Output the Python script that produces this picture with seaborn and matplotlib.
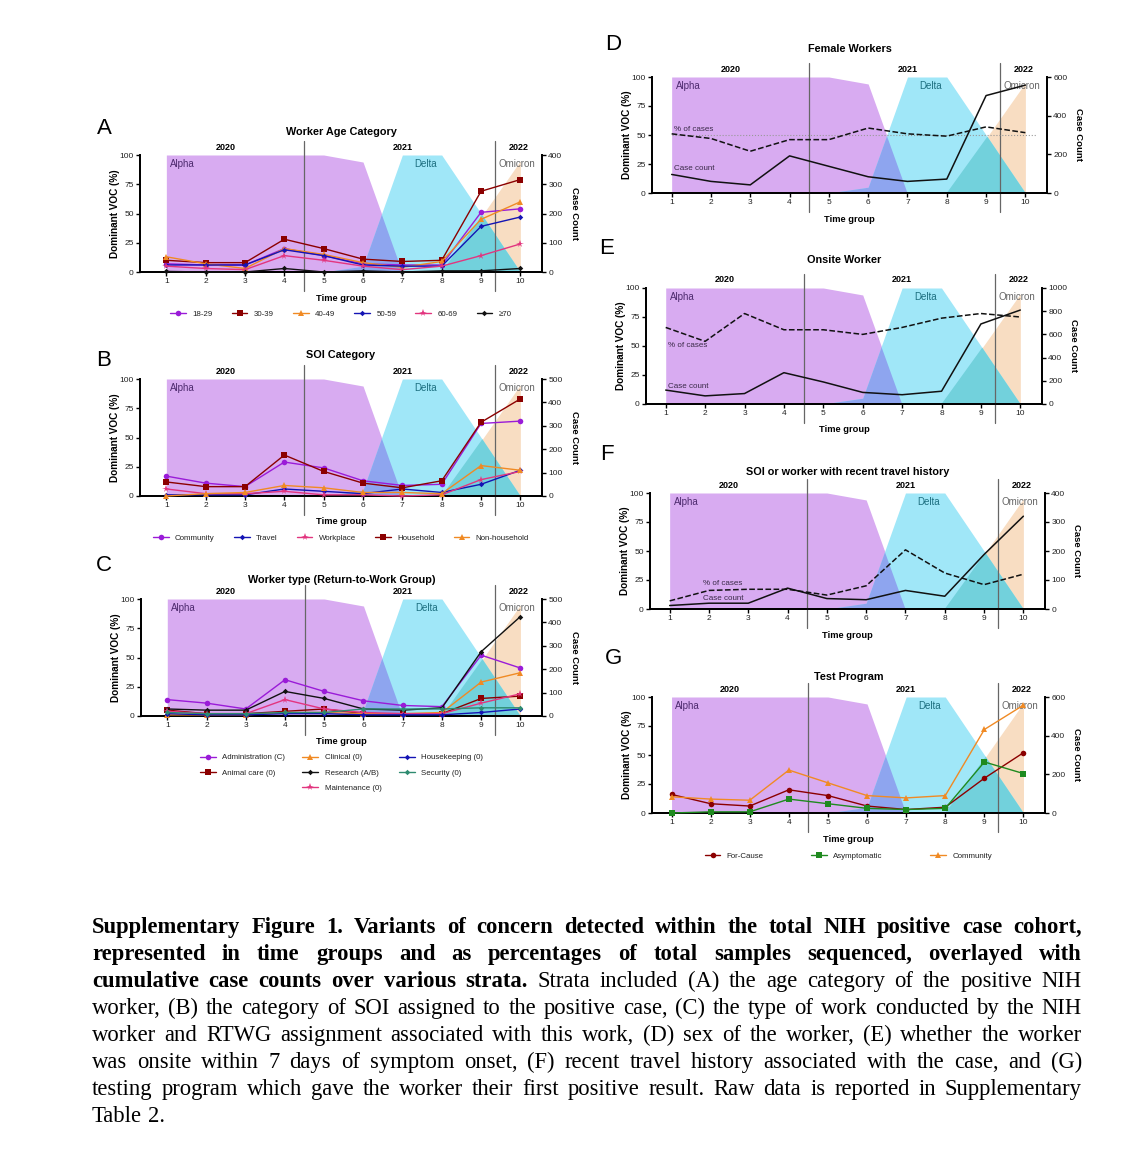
import numpy as np
import matplotlib
matplotlib.use('Agg')
import matplotlib.pyplot as plt
from matplotlib.lines import Line2D
import seaborn as sns

sns.set_theme(style='white')
plt.rcParams['font.family'] = ['Liberation Sans', 'DejaVu Sans']
plt.rcParams['text.color'] = 'black'

W, H = 1129, 1150
time_group = np.arange(1, 11)

# dominant variant of concern, % of sequenced samples
voc_alpha = [100, 100, 100, 100, 100, 94, 0, 0, 0, 0]
voc_delta = [0, 0, 0, 0, 0, 5, 100, 100, 50, 0]
voc_omicron = [0, 0, 0, 0, 0, 0, 0, 0, 47, 95]

# A - worker age category (case counts)
age_labels = ['18-29', '30-39', '40-49', '50-59', '60-69', '\u226570']
age_18_29 = [28, 24, 24, 80, 56, 28, 24, 24, 204, 216]
age_30_39 = [40, 32, 32, 112, 80, 44, 36, 40, 276, 316]
age_40_49 = [52, 28, 12, 80, 60, 32, 16, 36, 180, 240]
age_50_59 = [24, 24, 24, 76, 56, 24, 20, 20, 156, 188]
age_60_69 = [20, 12, 8, 56, 40, 20, 8, 20, 56, 96]
age_70_up = [2, 0, 0, 12, 0, 4, 0, 4, 4, 12]

# B - SOI category
soi_labels = ['Community', 'Travel', 'Workplace', 'Household', 'Non-household']
soi_community = [85, 55, 40, 145, 120, 65, 45, 50, 310, 320]
soi_travel = [5, 5, 5, 30, 20, 10, 30, 15, 50, 110]
soi_workplace = [30, 10, 10, 20, 5, 5, 0, 5, 70, 105]
soi_household = [60, 40, 40, 175, 105, 55, 35, 65, 315, 415]
soi_nonhousehold = [0, 10, 15, 45, 35, 15, 15, 10, 130, 110]

# C - worker type
wt_labels = ['Administration (C)', 'Animal care (0)', 'Clinical (0)', 'Research (A/B)',
             'Maintenance (0)', 'Housekeeping (0)', 'Security (0)']
wt_admin = [70, 55, 30, 155, 105, 65, 45, 40, 260, 205]
wt_animal = [25, 10, 10, 20, 30, 10, 10, 10, 75, 85]
wt_clinical = [5, 5, 5, 15, 15, 10, 10, 15, 145, 185]
wt_research = [30, 25, 25, 105, 75, 30, 25, 35, 275, 425]
wt_maint = [20, 10, 10, 70, 30, 15, 10, 10, 55, 95]
wt_house = [10, 5, 5, 10, 10, 5, 5, 5, 15, 30]
wt_security = [15, 10, 10, 15, 15, 30, 30, 30, 35, 35]

# D - female workers
fem_pct = [51, 47, 36, 46, 46, 56, 51, 49, 57, 52]
fem_count = [96, 60, 42, 192, 138, 84, 60, 72, 504, 558]

# E - onsite worker
ons_pct = [66, 54, 78, 64, 64, 60, 66, 74, 78, 75]
ons_count = [120, 70, 90, 270, 190, 100, 80, 110, 690, 810]

# F - recent travel history
trv_pct = [7, 16, 17, 17, 12, 20, 51, 31, 21, 30]
trv_count = [12, 20, 20, 72, 36, 32, 64, 44, 188, 320]

# G - test program
tp_labels = ['For-Cause', 'Asymptomatic', 'Community']
tp_forcause = [96, 48, 36, 120, 90, 36, 18, 30, 180, 312]
tp_asymp = [0, 6, 6, 72, 48, 24, 18, 24, 264, 204]
tp_community = [84, 72, 66, 222, 156, 90, 78, 90, 432, 558]

C_ALPHA, C_DELTA, C_OMI = '#d8abf1', '#a0e7f8', '#f8ddc2'
C_AD, C_DO = '#8ea5ef', '#72d1dc'
PURPLE, DRED, ORANGE, BLUE = '#9a1bd8', '#8b0000', '#f08a24', '#1414b4'
PINK, BLACK, TEAL, GREEN = '#e2357f', '#111111', '#2e8b70', '#1f8a1f'

fig = plt.figure(figsize=(W / 100, H / 100), dpi=100)


def make_axes(l, r, t, b):
    return fig.add_axes([l / W, 1 - b / H, (r - l) / W, (b - t) / H])


def setup(ax, title, title_off, cmax, cticks, xleft, hpx):
    a = ax.fill_between(time_group, 0, voc_alpha, color=C_ALPHA, lw=0)
    o = ax.fill_between(time_group, 0, voc_omicron, color=C_OMI, lw=0)
    ax.fill_between(time_group, 0, voc_delta, color=C_DELTA, lw=0)
    ov = ax.fill_between(time_group, 0, voc_delta, color=C_AD, lw=0)
    ov.set_clip_path(a.get_paths()[0], ax.transData)
    ov2 = ax.fill_between(time_group, 0, voc_delta, color=C_DO, lw=0)
    ov2.set_clip_path(o.get_paths()[0], ax.transData)
    ax.set_xlim(xleft, 10.55)
    ax.set_ylim(0, 100)
    ax.set_yticks([0, 25, 50, 75, 100])
    ax.set_xticks(time_group)
    for xv in (4.5, 9.35):
        ax.axvline(xv, ymin=-0.16, ymax=1.12, color='#666666', lw=0.9, clip_on=False, zorder=3)
    tr = ax.get_xaxis_transform()
    yy = 1 + 8 / hpx
    for xv, yr in ((2.5, '2020'), (7.0, '2021'), (9.95, '2022')):
        ax.text(xv, yy, yr, transform=tr, ha='center', va='center', fontsize=6.5, weight='bold')
    ax.text(1.1, 92, 'Alpha', ha='left', va='center', fontsize=7, color='#4d2a6e')
    ax.text(7.6, 92, 'Delta', ha='center', va='center', fontsize=7, color='#1d6f80')
    ax.text(9.9, 92, 'Omicron', ha='center', va='center', fontsize=7, color='#666666')
    ax.text(0.5, 1 + title_off / hpx, title, transform=ax.transAxes, ha='center', va='center',
            fontsize=7.8, weight='bold')
    ax.text(0.5, -26 / hpx, 'Time group', transform=ax.transAxes, ha='center', va='center',
            fontsize=6.7, weight='bold')
    ax.text(-25 / 400, 0.5, 'Dominant VOC (%)', transform=ax.transAxes, rotation=90,
            ha='center', va='center', fontsize=7.2, weight='bold')
    ax2 = ax.twinx()
    ax2.set_ylim(0, cmax)
    ax2.set_yticks(cticks)
    ax2.text(1 + 32 / 400, 0.5, 'Case Count', transform=ax.transAxes, rotation=270,
             ha='center', va='center', fontsize=6.8, weight='bold')
    for a_ in (ax, ax2):
        a_.spines['top'].set_visible(False)
        for s in ('left', 'right', 'bottom'):
            a_.spines[s].set_linewidth(1.3)
            a_.spines[s].set_color('black')
        a_.tick_params(labelsize=6, length=3, width=1, pad=1.5, direction='out',
                       color='black', labelcolor='#222222')
    ax.tick_params(axis='y', left=True, right=False)
    ax.tick_params(axis='x', bottom=True)
    ax2.tick_params(axis='y', right=True)
    ax.grid(False)
    ax2.grid(False)
    return ax2


def series(ax2, vals, color, marker, label, ms=4):
    sns.lineplot(x=time_group, y=vals, ax=ax2, color=color, marker=marker, markersize=ms,
                 linewidth=1.0, markeredgewidth=0, label=label, clip_on=False, zorder=4)


def finish_legend(ax2, handles, labels, ncol, yoff, hpx, colsp=2.0):
    leg = ax2.legend(handles, labels, loc='center', bbox_to_anchor=(0.5, -yoff / hpx),
                     ncol=ncol, frameon=False, fontsize=5.7, handlelength=2.0,
                     columnspacing=colsp, handletextpad=0.8, labelspacing=1.0,
                     borderaxespad=0)
    for t in leg.get_texts():
        t.set_color('#222222')
    return leg


def panel_letter(x, y, s):
    fig.text(x / W, 1 - y / H, s, fontsize=16, ha='center', va='center')


# ---- A
axA = make_axes(140, 542, 155, 272)
a2 = setup(axA, 'Worker Age Category', 23, 400, [0, 100, 200, 300, 400], 0.33, 117)
series(a2, age_18_29, PURPLE, 'o', age_labels[0])
series(a2, age_30_39, DRED, 's', age_labels[1])
series(a2, age_40_49, ORANGE, '^', age_labels[2], 4.5)
series(a2, age_50_59, BLUE, 'D', age_labels[3], 2.8)
series(a2, age_60_69, PINK, '*', age_labels[4], 5.5)
series(a2, age_70_up, BLACK, 'D', age_labels[5], 2.8)
h, l = a2.get_legend_handles_labels()
finish_legend(a2, h, l, 6, 42, 117, 2.4)
panel_letter(104, 128, 'A')

# ---- B
axB = make_axes(140, 542, 379, 496)
b2 = setup(axB, 'SOI Category', 24, 500, [0, 100, 200, 300, 400, 500], 0.33, 117)
series(b2, soi_community, PURPLE, 'o', soi_labels[0])
series(b2, soi_travel, BLUE, 'D', soi_labels[1], 2.8)
series(b2, soi_workplace, PINK, '*', soi_labels[2], 5.5)
series(b2, soi_household, DRED, 's', soi_labels[3])
series(b2, soi_nonhousehold, ORANGE, '^', soi_labels[4], 4.5)
h, l = b2.get_legend_handles_labels()
finish_legend(b2, h, l, 5, 42, 117, 2.4)
panel_letter(104, 360, 'B')

# ---- C
axC = make_axes(141, 542, 599, 716)
c2 = setup(axC, 'Worker type (Return-to-Work Group)', 19, 500, [0, 100, 200, 300, 400, 500], 0.33, 117)
series(c2, wt_admin, PURPLE, 'o', wt_labels[0])
series(c2, wt_animal, DRED, 's', wt_labels[1])
series(c2, wt_clinical, ORANGE, '^', wt_labels[2], 4.5)
series(c2, wt_research, BLACK, 'D', wt_labels[3], 2.8)
series(c2, wt_maint, PINK, '*', wt_labels[4], 5.5)
series(c2, wt_house, BLUE, 'D', wt_labels[5], 2.8)
series(c2, wt_security, TEAL, 'D', wt_labels[6], 2.8)
h, l = c2.get_legend_handles_labels()
blank = Line2D([], [], linestyle='none')
order_h = [h[0], h[1], blank, h[2], h[3], h[4], h[5], h[6], blank]
order_l = [l[0], l[1], '', l[2], l[3], l[4], l[5], l[6], '']
finish_legend(c2, order_h, order_l, 3, 57, 117, 2.2)
panel_letter(104, 565, 'C')


# ---- D, E, F (single stratum, % of cases + case count)
def single_panel(box, title, title_off, cmax, cticks, pct, cnt, pct_lab, cnt_lab, letter, lpos):
    ax = make_axes(*box)
    hpx = box[3] - box[2]
    ax2 = setup(ax, title, title_off, cmax, cticks, 0.5, hpx)
    sns.lineplot(x=time_group, y=pct, ax=ax, color=BLACK, linewidth=1.1, linestyle='--', zorder=4)
    sns.lineplot(x=time_group, y=cnt, ax=ax2, color=BLACK, linewidth=1.1, zorder=4)
    ax.text(pct_lab[0], pct_lab[1], '% of cases', fontsize=5.8, color='#3a2a48', va='bottom')
    ax.text(cnt_lab[0], cnt_lab[1], 'Case count', fontsize=5.8, color='#3a2a48', va='bottom')
    for a_ in (ax, ax2):
        if a_.get_legend() is not None:
            a_.get_legend().remove()
    panel_letter(lpos[0], lpos[1], letter)
    return ax, ax2


axD, d2 = single_panel((652, 1047, 77, 193), 'Female Workers', 28, 600, [0, 200, 400, 600],
                       fem_pct, fem_count, (1.05, 52), (1.05, 18), 'D', (613, 45))
axD.hlines(50, 1, 10.3, colors='#999999', linestyles=':', lw=0.8, zorder=3)
single_panel((646, 1042, 288, 404), 'Onsite Worker', 28, 1000, [0, 200, 400, 600, 800, 1000],
             ons_pct, ons_count, (1.05, 47), (1.05, 12), 'E', (607, 248))
single_panel((650, 1045, 493, 609), 'SOI or worker with recent travel history', 21, 400,
             [0, 100, 200, 300, 400], trv_pct, trv_count, (1.85, 19), (1.85, 6), 'F', (607, 455))

# ---- G
axG = make_axes(652, 1045, 697, 813)
g2 = setup(axG, 'Test Program', 20, 600, [0, 200, 400, 600], 0.5, 116)
series(g2, tp_forcause, DRED, 'o', tp_labels[0])
series(g2, tp_asymp, GREEN, 's', tp_labels[1])
series(g2, tp_community, ORANGE, '^', tp_labels[2], 4.5)
h, l = g2.get_legend_handles_labels()
finish_legend(g2, h, l, 3, 43, 116, 6)
panel_letter(613, 658, 'G')

# ---- caption, justified
caption_lines = [
    [("Supplementary Figure 1. Variants of concern detected within the total NIH positive case cohort,", 'bold')],
    [("represented in time groups and as percentages of total samples sequenced, overlayed with", 'bold')],
    [("cumulative case counts over various strata.", 'bold'),
     ("Strata included (A) the age category of the positive NIH", 'normal')],
    [("worker, (B) the category of SOI assigned to the positive case, (C) the type of work conducted by the NIH", 'normal')],
    [("worker and RTWG assignment associated with this work, (D) sex of the worker, (E) whether the worker", 'normal')],
    [("was onsite within 7 days of symptom onset, (F) recent travel history associated with the case, and (G)", 'normal')],
    [("testing program which gave the worker their first positive result. Raw data is reported in Supplementary", 'normal')],
    [("Table 2.", 'normal')],
]
renderer = fig.canvas.get_renderer()
cap_fs = 16.3
x_left, x_right = 92, 1082
space_px = 0.25 * cap_fs / 72 * 100
for i, segs in enumerate(caption_lines):
    yb = 933 + 27.0 * i
    words = [(w, wt) for s, wt in segs for w in s.split()]
    arts = [fig.text(0, 1 - yb / H, w, fontsize=cap_fs, family=['Liberation Serif', 'DejaVu Serif'],
                     weight=wt, va='baseline', ha='left', color='black') for w, wt in words]
    widths = [t.get_window_extent(renderer).width for t in arts]
    if i < len(caption_lines) - 1 and len(words) > 1:
        gap = (x_right - x_left - sum(widths)) / (len(words) - 1)
    else:
        gap = space_px
    x = x_left
    for t, wd in zip(arts, widths):
        t.set_x(x / W)
        x += wd + gap

fig.savefig('out.png', dpi=100)
